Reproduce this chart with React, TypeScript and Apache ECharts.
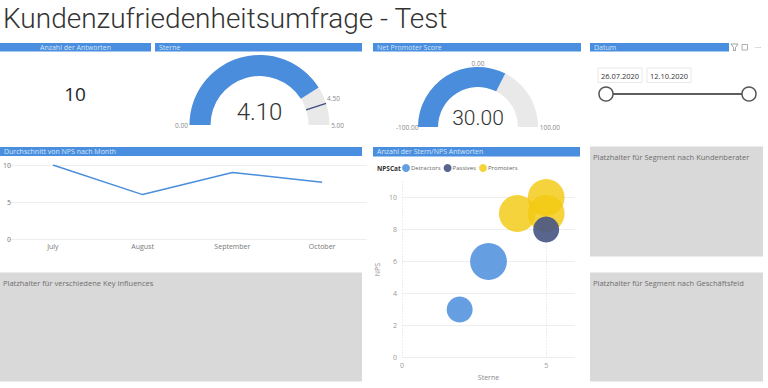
import React, { useEffect, useRef } from "react";
import * as echarts from "echarts";

const FONT = "'Open Sans', 'Noto Sans', sans-serif";
const LIGHT = "Roboto, 'Open Sans', sans-serif";

const titleText = "Kundenzufriedenheitsumfrage - Test";
const answerCount = 10;

const starsValue = 4.1;
const starsMin = 0;
const starsMax = 5;
const starsTarget = 4.5;

const npsValue = 30;
const npsMin = -100;
const npsMax = 100;
const npsTarget = 0;

const dateRange = ["26.07.2020", "12.10.2020"];

const months = ["July", "August", "September", "October"];
const npsAvgByMonth = [10, 6, 9, 7.67];

// [Sterne, NPS, Anzahl]
const detractors = [
  [2, 3, 1],
  [3, 6, 2],
];
const passives = [[5, 8, 1]];
const promoters = [
  [4, 9, 2],
  [5, 10, 2],
  [5, 9, 2],
];

const BAR = "#4A8FDF";
const BLUE = "#4A8DDC";
const NAVY = "#3F4E7E";
const PASSIVE = "#4A5886";
const YELLOW = "#F3C911";
const GRAY_BAND = "#E9E9E9";
const PANEL = "#D9D9D9";

function headerBar(x: number, y: number, w: number, h: number, text: string, align: "left" | "center") {
  return [
    { type: "rect", shape: { x, y, width: w, height: h }, style: { fill: BAR }, silent: true },
    {
      type: "text",
      x: align === "center" ? x + w / 2 : x + 4,
      y: y + h / 2,
      style: {
        text,
        fill: "#D6E5F7",
        font: `7px ${FONT}`,
        textAlign: align,
        textVerticalAlign: "middle",
      },
      silent: true,
    },
  ];
}

function panel(x: number, y: number, w: number, h: number, text: string) {
  return [
    { type: "rect", shape: { x, y, width: w, height: h }, style: { fill: PANEL }, silent: true },
    {
      type: "text",
      x: x + 3,
      y: y + 10,
      style: { text, fill: "#6E6E6E", font: `7.5px ${FONT}`, textVerticalAlign: "middle" },
      silent: true,
    },
  ];
}

export default function App() {
  const ref = useRef<HTMLDivElement>(null);

  useEffect(() => {
    if (!ref.current) return;
    const chart = echarts.init(ref.current, undefined, { renderer: "svg" });

    const bubbleSize = (v: number[]) => 26 * Math.sqrt(v[2]);

    const graphics: any[] = [
      {
        type: "text",
        x: 3,
        y: 18,
        style: {
          text: titleText,
          fill: "#333",
          font: `300 28px ${LIGHT}`,
          textVerticalAlign: "middle",
        },
        silent: true,
      },
      ...headerBar(0, 43, 151, 8.5, "Anzahl der Antworten", "center"),
      ...headerBar(155, 43, 207, 8.5, "Sterne", "left"),
      ...headerBar(373, 43, 208, 8.5, "Net Promoter Score", "left"),
      ...headerBar(590, 43, 139, 8.5, "Datum", "left"),
      ...headerBar(0, 147, 362, 9, "Durchschnitt von NPS nach Month", "left"),
      ...headerBar(373, 147, 207, 9.5, "Anzahl der Stern/NPS Antworten", "left"),
      {
        type: "text",
        x: 75,
        y: 94,
        style: {
          text: String(answerCount),
          fill: "#252525",
          font: `500 19px ${FONT}`,
          textAlign: "center",
          textVerticalAlign: "middle",
        },
        silent: true,
      },
      // filter / focus / more icons
      {
        type: "polygon",
        shape: { points: [[731, 44], [738, 44], [735.5, 47.5], [735.5, 50.5], [733.5, 50.5], [733.5, 47.5]] },
        style: { fill: "none", stroke: "#8A8A8A", lineWidth: 0.8 },
        silent: true,
      },
      {
        type: "rect",
        shape: { x: 742, y: 44.5, width: 5.5, height: 5.5 },
        style: { fill: "none", stroke: "#9A9A9A", lineWidth: 0.8 },
        silent: true,
      },
      {
        type: "text",
        x: 758,
        y: 46,
        style: { text: "···", fill: "#8A8A8A", font: `8px ${FONT}`, textAlign: "center", textVerticalAlign: "middle" },
        silent: true,
      },
      // date slicer
      {
        type: "rect",
        shape: { x: 598, y: 68, width: 44, height: 14.5 },
        style: { fill: "#fff", stroke: "#E8E8E8", lineWidth: 1 },
        silent: true,
      },
      {
        type: "text",
        x: 620,
        y: 75.5,
        style: { text: dateRange[0], fill: "#333", font: `7.5px ${FONT}`, textAlign: "center", textVerticalAlign: "middle" },
        silent: true,
      },
      {
        type: "rect",
        shape: { x: 647, y: 68, width: 44, height: 14.5 },
        style: { fill: "#fff", stroke: "#E8E8E8", lineWidth: 1 },
        silent: true,
      },
      {
        type: "text",
        x: 669,
        y: 75.5,
        style: { text: dateRange[1], fill: "#333", font: `7.5px ${FONT}`, textAlign: "center", textVerticalAlign: "middle" },
        silent: true,
      },
      {
        type: "line",
        shape: { x1: 606, y1: 94, x2: 749, y2: 94 },
        style: { stroke: "#5E5E5E", lineWidth: 2 },
        silent: true,
      },
      {
        type: "circle",
        shape: { cx: 606, cy: 94, r: 7 },
        style: { fill: "#fff", stroke: "#555", lineWidth: 1.5 },
        silent: true,
      },
      {
        type: "circle",
        shape: { cx: 749, cy: 94, r: 7 },
        style: { fill: "#fff", stroke: "#555", lineWidth: 1.5 },
        silent: true,
      },
      // legend title
      {
        type: "text",
        x: 377,
        y: 168,
        style: { text: "NPSCat", fill: "#333", font: `bold 6.5px ${FONT}`, textVerticalAlign: "middle" },
        silent: true,
      },
      ...panel(0, 272.5, 362, 109, "Platzhalter für verschiedene Key Influences"),
      ...panel(590, 146.5, 173, 110, "Platzhalter für Segment nach Kundenberater"),
      ...panel(590, 272.5, 173, 109, "Platzhalter für Segment nach Geschäftsfeld"),
    ];

    const gaugeCommon = {
      type: "gauge",
      startAngle: 180,
      endAngle: 0,
      axisTick: { show: false },
      splitLine: { show: false, length: 0 },
      title: { show: false },
      anchor: { show: false },
    };

    const option: any = {
      animation: false,
      textStyle: { fontFamily: FONT },
      graphic: graphics,
      legend: {
        left: 402,
        top: 164,
        padding: 0,
        itemWidth: 8,
        itemHeight: 8,
        itemGap: 3,
        icon: "circle",
        data: ["Detractors", "Passives", "Promoters"],
        textStyle: { fontSize: 6, color: "#666", fontFamily: FONT, padding: [0, 0, 0, -4] },
      },
      grid: [
        { left: 7, top: 165, width: 360, height: 74 },
        { left: 402, top: 181.5, width: 173, height: 176 },
      ],
      xAxis: [
        {
          gridIndex: 0,
          type: "category",
          data: months,
          boundaryGap: true,
          axisLine: { show: false },
          axisTick: { show: false },
          axisLabel: { color: "#777", fontSize: 7, margin: 4 },
        },
        {
          gridIndex: 1,
          type: "value",
          min: 0,
          max: 6,
          interval: 5,
          name: "Sterne",
          nameLocation: "middle",
          nameGap: 16,
          nameTextStyle: { color: "#888", fontSize: 7 },
          axisLine: { show: false },
          axisTick: { show: false },
          axisLabel: { color: "#999", fontSize: 7, margin: 4, showMaxLabel: false },
          splitLine: { show: true, showMaxLine: false, lineStyle: { color: "#DDD", type: [1, 2] } },
        },
      ],
      yAxis: [
        {
          gridIndex: 0,
          type: "value",
          min: 0,
          max: 10,
          interval: 5,
          axisLine: { show: false },
          axisTick: { show: false },
          axisLabel: { color: "#777", fontSize: 7, margin: -3 },
          splitLine: { lineStyle: { color: "#EEE" } },
        },
        {
          gridIndex: 1,
          type: "value",
          min: 0,
          max: 11,
          interval: 2,
          name: "NPS",
          nameLocation: "middle",
          nameGap: 21,
          nameRotate: 90,
          nameTextStyle: { color: "#888", fontSize: 7 },
          axisLine: { show: false },
          axisTick: { show: false },
          axisLabel: { color: "#999", fontSize: 7, margin: 5, showMaxLabel: false },
          splitLine: { showMaxLine: false, lineStyle: { color: "#EEE" } },
        },
      ],
      series: [
        {
          ...gaugeCommon,
          center: [259.5, 125],
          radius: 70,
          min: starsMin,
          max: starsMax,
          splitNumber: 1,
          axisLine: { lineStyle: { width: 21, color: [[1, GRAY_BAND]] } },
          progress: { show: true, width: 21, itemStyle: { color: BLUE } },
          pointer: { show: false },
          axisLabel: {
            distance: -24.5,
            color: "#888",
            fontSize: 6.5,
            formatter: (v: number) => v.toFixed(2),
          },
          detail: {
            offsetCenter: [0, -13],
            fontSize: 24,
            fontWeight: 300,
            color: "#333",
            fontFamily: LIGHT,
            formatter: (v: number) => v.toFixed(2),
          },
          data: [{ value: starsValue }],
        },
        {
          ...gaugeCommon,
          center: [259.5, 125],
          radius: 70,
          min: starsMin,
          max: starsMax,
          splitNumber: 10,
          axisLine: { show: false, lineStyle: { width: 21 } },
          progress: { show: false },
          pointer: {
            show: true,
            icon: "rect",
            width: 1.5,
            length: 21,
            offsetCenter: [0, -49],
            itemStyle: { color: NAVY },
          },
          axisLabel: {
            distance: -24.5,
            color: "#888",
            fontSize: 6.5,
            formatter: (v: number) => (Math.abs(v - starsTarget) < 1e-6 ? v.toFixed(2) : ""),
          },
          detail: { show: false },
          data: [{ value: starsTarget }],
        },
        {
          ...gaugeCommon,
          center: [478, 127],
          radius: 60,
          min: npsMin,
          max: npsMax,
          splitNumber: 1,
          axisLine: { lineStyle: { width: 20, color: [[1, GRAY_BAND]] } },
          progress: { show: true, width: 20, itemStyle: { color: BLUE } },
          pointer: { show: false },
          axisLabel: {
            distance: -32,
            color: "#888",
            fontSize: 6.5,
            formatter: (v: number) => v.toFixed(2),
          },
          detail: {
            offsetCenter: [0, -9.5],
            fontSize: 21,
            fontWeight: 300,
            color: "#333",
            fontFamily: LIGHT,
            formatter: (v: number) => v.toFixed(2),
          },
          data: [{ value: npsValue }],
        },
        {
          ...gaugeCommon,
          center: [478, 127],
          radius: 60,
          min: npsMin,
          max: npsMax,
          splitNumber: 2,
          axisLine: { show: false, lineStyle: { width: 20 } },
          progress: { show: false },
          pointer: {
            show: true,
            icon: "rect",
            width: 1,
            length: 20,
            offsetCenter: [0, -40],
            itemStyle: { color: "#444" },
          },
          axisLabel: {
            distance: -17,
            color: "#888",
            fontSize: 6.5,
            formatter: (v: number) => (Math.abs(v - npsTarget) < 1e-6 ? v.toFixed(2) : ""),
          },
          detail: { show: false },
          data: [{ value: npsTarget }],
        },
        {
          name: "NPS",
          type: "line",
          xAxisIndex: 0,
          yAxisIndex: 0,
          data: npsAvgByMonth,
          showSymbol: false,
          lineStyle: { color: BLUE, width: 1.5 },
          itemStyle: { color: BLUE },
        },
        {
          name: "Detractors",
          type: "scatter",
          xAxisIndex: 1,
          yAxisIndex: 1,
          data: detractors,
          symbolSize: bubbleSize,
          itemStyle: { color: BLUE, opacity: 0.85 },
        },
        {
          name: "Promoters",
          type: "scatter",
          xAxisIndex: 1,
          yAxisIndex: 1,
          data: promoters,
          symbolSize: bubbleSize,
          itemStyle: { color: YELLOW, opacity: 0.82 },
        },
        {
          name: "Passives",
          type: "scatter",
          xAxisIndex: 1,
          yAxisIndex: 1,
          data: passives,
          symbolSize: bubbleSize,
          itemStyle: { color: PASSIVE, opacity: 0.92 },
        },
      ],
    };

    chart.setOption(option);
    return () => chart.dispose();
  }, []);

  return (
    <div
      ref={ref}
      style={{ position: "absolute", left: 0, top: 0, width: 768, height: 388, background: "#fff" }}
    />
  );
}
